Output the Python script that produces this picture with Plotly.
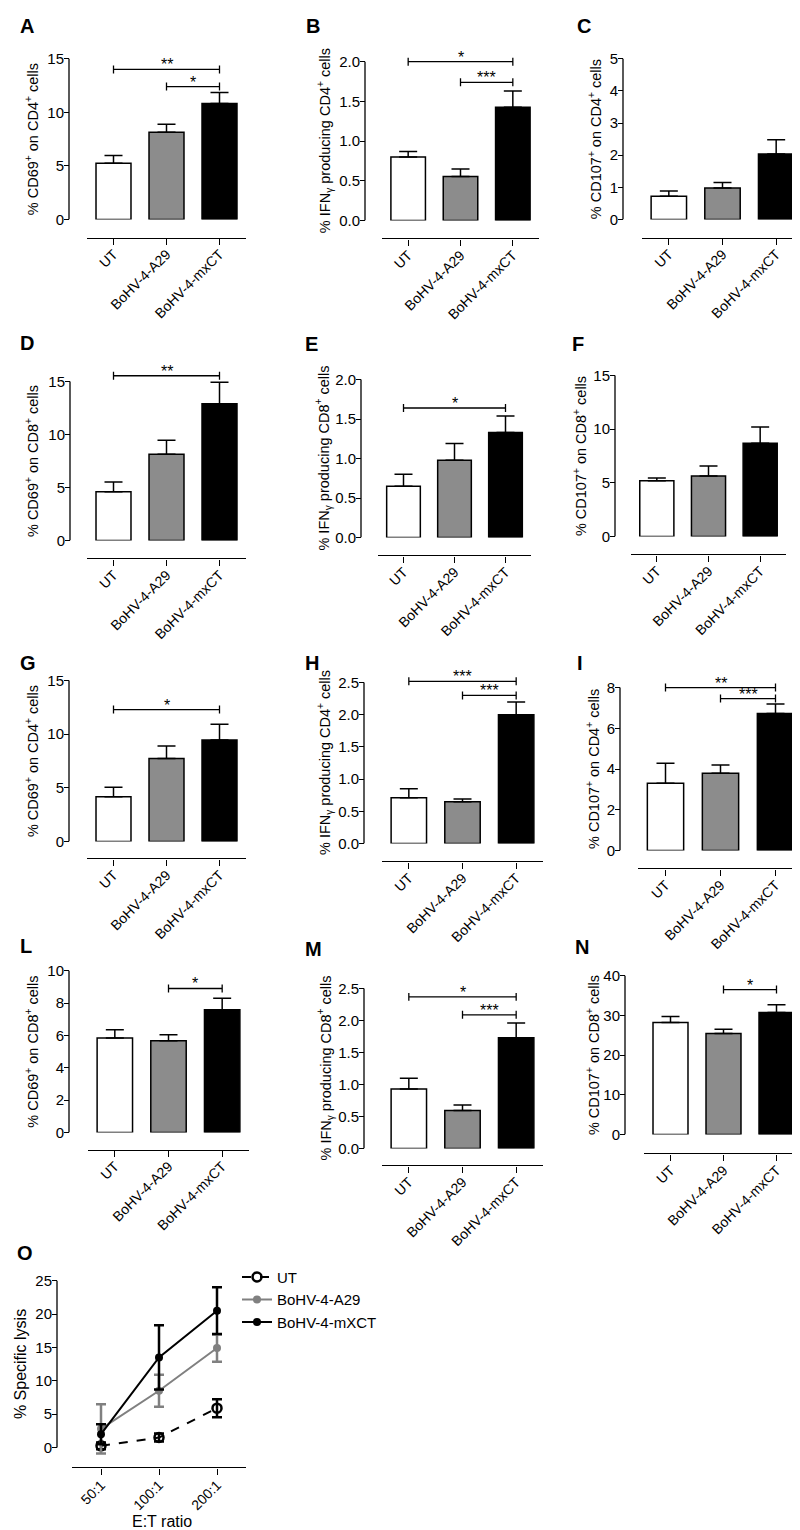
import plotly.graph_objects as go

W, H = 800, 1530
FONT = "Liberation Sans, Arial, sans-serif"

groups = ["UT", "BoHV-4-A29", "BoHV-4-mxCT"]
bar_colors = ["#ffffff", "#8c8c8c", "#000000"]

# ---- bar panel data (mean, SEM) ----
A_mean = [5.26, 8.14, 10.83]; A_sem = [0.71, 0.74, 1.02]
B_mean = [0.80, 0.555, 1.425]; B_sem = [0.07, 0.095, 0.205]
C_mean = [0.73, 0.98, 2.04]; C_sem = [0.16, 0.17, 0.44]
D_mean = [4.60, 8.14, 12.90]; D_sem = [0.91, 1.31, 2.03]
E_mean = [0.65, 0.98, 1.33]; E_sem = [0.15, 0.21, 0.21]
F_mean = [5.19, 5.65, 8.70]; F_sem = [0.27, 0.92, 1.50]
G_mean = [4.17, 7.74, 9.46]; G_sem = [0.90, 1.16, 1.46]
H_mean = [0.71, 0.65, 2.00]; H_sem = [0.14, 0.04, 0.20]
I_mean = [3.30, 3.79, 6.73]; I_sem = [0.98, 0.41, 0.46]
L_mean = [5.85, 5.68, 7.59]; L_sem = [0.51, 0.37, 0.71]
M_mean = [0.93, 0.595, 1.73]; M_sem = [0.17, 0.085, 0.23]
N_mean = [28.2, 25.45, 30.7]; N_sem = [1.55, 1.05, 2.00]

# significance brackets: (group from, group to, height, label)
A_sig = [(0, 2, 14.0, "**"), (1, 2, 12.4, "*")]
B_sig = [(0, 2, 2.0, "*"), (1, 2, 1.74, "***")]
C_sig = []
D_sig = [(0, 2, 15.55, "**")]
E_sig = [(0, 2, 1.64, "*")]
F_sig = []
G_sig = [(0, 2, 12.3, "*")]
H_sig = [(0, 2, 2.52, "***"), (1, 2, 2.30, "***")]
I_sig = [(0, 2, 8.0, "**"), (1, 2, 7.46, "***")]
L_sig = [(1, 2, 8.9, "*")]
M_sig = [(0, 2, 2.37, "*"), (1, 2, 2.09, "***")]
N_sig = [(1, 2, 36.5, "*")]

# y tick values
A_ticks = [0, 5, 10, 15]
B_ticks = [0, 0.5, 1.0, 1.5, 2.0]
C_ticks = [0, 1, 2, 3, 4, 5]
D_ticks = [0, 5, 10, 15]
E_ticks = [0, 0.5, 1.0, 1.5, 2.0]
F_ticks = [0, 5, 10, 15]
G_ticks = [0, 5, 10, 15]
H_ticks = [0, 0.5, 1.0, 1.5, 2.0, 2.5]
I_ticks = [0, 2, 4, 6, 8]
L_ticks = [0, 2, 4, 6, 8, 10]
M_ticks = [0, 0.5, 1.0, 1.5, 2.0, 2.5]
N_ticks = [0, 10, 20, 30, 40]

T_CD69_CD4 = "% CD69<sup>+</sup> on CD4<sup>+</sup> cells"
T_IFN_CD4 = "% IFN<sub>γ</sub> producing CD4<sup>+</sup> cells"
T_107_CD4 = "% CD107<sup>+</sup> on CD4<sup>+</sup> cells"
T_CD69_CD8 = "% CD69<sup>+</sup> on CD8<sup>+</sup> cells"
T_IFN_CD8 = "% IFN<sub>γ</sub> producing CD8<sup>+</sup> cells"
T_107_CD8 = "% CD107<sup>+</sup> on CD8<sup>+</sup> cells"

# ---- panel O data ----
O_ratios = ["50:1", "100:1", "200:1"]
O_UT = [0.25, 1.5, 5.9]; O_UT_err = [0.5, 0.6, 1.35]
O_A29 = [2.8, 8.5, 14.9]; O_A29_err = [3.7, 2.4, 2.05]
O_mx = [2.0, 13.5, 20.5]; O_mx_err = [1.5, 4.8, 3.5]
O_ticks = [0, 5, 10, 15, 20, 25]

# ---- layout geometry (pixels) ----
panels = [
    ("A", A_mean, A_sem, A_sig, A_ticks, T_CD69_CD4, dict(yax=61, xl=79, xr=238, xline=229, y0=211, ytop=49, tx=24, lx=10, ly=7, fmt="")),
    ("B", B_mean, B_sem, B_sig, B_ticks, T_IFN_CD4, dict(yax=357, xl=374, xr=531, xline=230, y0=212, ytop=52, tx=317, lx=296, ly=7, fmt=".1f")),
    ("C", C_mean, C_sem, C_sig, C_ticks, T_107_CD4, dict(yax=615, xl=634, xr=795, xline=229, y0=211, ytop=49, tx=587, lx=567, ly=7, fmt="")),
    ("D", D_mean, D_sem, D_sig, D_ticks, T_CD69_CD8, dict(yax=62, xl=79, xr=238, xline=552, y0=534, ytop=374, tx=24, lx=10, ly=326, fmt="")),
    ("E", E_mean, E_sem, E_sig, E_ticks, T_IFN_CD8, dict(yax=353, xl=370, xr=523, xline=549, y0=531, ytop=372, tx=315, lx=295, ly=327, fmt=".1f")),
    ("F", F_mean, F_sem, F_sig, F_ticks, T_107_CD8, dict(yax=607, xl=623, xr=778, xline=548, y0=530, ytop=368, tx=572, lx=562, ly=327, fmt="")),
    ("G", G_mean, G_sem, G_sig, G_ticks, T_CD69_CD4, dict(yax=61, xl=79, xr=238, xline=854, y0=837, ytop=675, tx=24, lx=10, ly=648, fmt="")),
    ("H", H_mean, H_sem, H_sig, H_ticks, T_IFN_CD4, dict(yax=356, xl=374, xr=535, xline=857, y0=839, ytop=677, tx=317, lx=295, ly=648, fmt=".1f")),
    ("I", I_mean, I_sem, I_sig, I_ticks, T_107_CD4, dict(yax=612, xl=630, xr=795, xline=864, y0=846, ytop=682, tx=585, lx=567, ly=648, fmt="")),
    ("L", L_mean, L_sem, L_sig, L_ticks, T_CD69_CD8, dict(yax=61, xl=80, xr=241, xline=1147, y0=1130, ytop=967, tx=24, lx=10, ly=933, fmt="")),
    ("M", M_mean, M_sem, M_sig, M_ticks, T_IFN_CD8, dict(yax=356, xl=374, xr=535, xline=1163, y0=1146, ytop=985, tx=317, lx=295, ly=936, fmt=".1f")),
    ("N", N_mean, N_sem, N_sig, N_ticks, T_107_CD8, dict(yax=617, xl=636, xr=795, xline=1151, y0=1132, ytop=972, tx=585, lx=565, ly=934, fmt="")),
]
O_geom = dict(yax=49, xl=64, xr=238, xline=1467, y0=1447, ytop=1279, tx=12, lx=7, ly=1242)

EXT = 1.12  # extra headroom above top tick for brackets
TICK_FS = 15
CAT_FS = 14
TITLE_FS = 14.5
STAR_FS = 16


def px(x):
    return x / W


def py(y):
    return 1 - y / H


fig = go.Figure()
layout = {}
shapes = []
annotations = []

for k, (letter, mean, sem, sig, ticks, title, g) in enumerate(panels, start=1):
    xa = "x" if k == 1 else f"x{k}"
    ya = "y" if k == 1 else f"y{k}"
    top = ticks[-1]
    span = g["y0"] - g["ytop"]
    dom_top = g["y0"] - span * EXT
    fig.add_trace(go.Bar(
        x=[0, 1, 2], y=mean, width=0.66,
        marker=dict(color=bar_colors, line=dict(color="black", width=1.5)),
        error_y=dict(type="data", array=sem, arrayminus=[0, 0, 0], symmetric=False,
                     thickness=1.5, width=9, color="black"),
        xaxis=xa, yaxis=ya, showlegend=False, hoverinfo="skip"))
    d = 4.0 * top / span
    for (a, b, h, lab) in sig:
        fig.add_trace(go.Scatter(
            x=[a, a, a, b, b, b], y=[h - d, h + d, h, h, h + d, h - d],
            mode="lines", line=dict(color="black", width=1.3),
            xaxis=xa, yaxis=ya, showlegend=False, hoverinfo="skip"))
        annotations.append(dict(x=(a + b) / 2, y=h, xref=xa, yref=ya, text=lab,
                                showarrow=False, yanchor="bottom", yshift=-6,
                                font=dict(family=FONT, size=STAR_FS, color="black")))
    key = k if k > 1 else ""
    layout[f"xaxis{key}"] = dict(
        domain=[px(g["xl"]), px(g["xr"])], range=[-0.5, 2.5], anchor="free",
        position=py(g["xline"]), showline=True, linecolor="black", linewidth=1.3,
        ticks="outside", ticklen=6, tickwidth=1.3, tickcolor="black",
        tickvals=[0, 1, 2], ticktext=groups, tickangle=-45, ticklabelstandoff=-4,
        tickfont=dict(family=FONT, size=CAT_FS, color="black"),
        showgrid=False, zeroline=False, fixedrange=True)
    layout[f"yaxis{key}"] = dict(
        domain=[py(g["y0"]), py(dom_top)], range=[0, top * EXT], anchor="free",
        position=px(g["yax"]), showline=False, ticks="outside", ticklen=5,
        tickwidth=1.3, tickcolor="black", tickvals=ticks, tickformat=g["fmt"],
        ticklabelstandoff=-3,
        tickfont=dict(family=FONT, size=TICK_FS, color="black"),
        showgrid=False, zeroline=False, fixedrange=True)
    shapes.append(dict(type="line", xref="paper", yref=ya, x0=px(g["yax"]), x1=px(g["yax"]),
                       y0=0, y1=top, line=dict(color="black", width=1.3)))
    annotations.append(dict(x=px(g["tx"]), y=py((g["y0"] + g["ytop"]) / 2), xref="paper", yref="paper",
                            text=title, textangle=-90, showarrow=False, xanchor="center", yanchor="middle",
                            font=dict(family=FONT, size=TITLE_FS, color="black")))
    annotations.append(dict(x=px(g["lx"]), y=py(g["ly"] - 4), xref="paper", yref="paper",
                            text=f"<b>{letter}</b>", showarrow=False, xanchor="left", yanchor="top",
                            font=dict(family=FONT, size=20, color="black")))

# ---- panel O ----
k = 13
g = O_geom
xa, ya = f"x{k}", f"y{k}"
top = O_ticks[-1]
span = g["y0"] - g["ytop"]
ylo = -2.0
yhi = 26.0
dom_bot = g["y0"] + span * (-ylo) / top
dom_top = g["y0"] - span * yhi / top
series = [
    ("UT", O_UT, O_UT_err, "black", "dash",
     dict(symbol="circle-open", size=9, color="black", line=dict(width=2.5, color="black"))),
    ("BoHV-4-A29", O_A29, O_A29_err, "#808080", "solid",
     dict(symbol="circle", size=8, color="#808080")),
    ("BoHV-4-mXCT", O_mx, O_mx_err, "black", "solid",
     dict(symbol="circle", size=8, color="black")),
]
for name, yv, ev, col, dash, mk in series:
    fig.add_trace(go.Scatter(
        x=[0, 1, 2], y=yv, name=name, mode="lines+markers",
        line=dict(color=col, width=2, dash=dash), marker=mk,
        error_y=dict(type="data", array=ev, symmetric=True, thickness=2.5, width=5, color=col),
        xaxis=xa, yaxis=ya, showlegend=True, hoverinfo="skip", cliponaxis=False))
layout[f"xaxis{k}"] = dict(
    domain=[px(g["xl"]), px(g["xr"])], range=[-0.5, 2.5], anchor="free",
    position=py(g["xline"]), showline=True, linecolor="black", linewidth=1.3,
    ticks="outside", ticklen=6, tickwidth=1.3, tickcolor="black",
    tickvals=[0, 1, 2], ticktext=O_ratios, tickangle=-45, ticklabelstandoff=-3,
    tickfont=dict(family=FONT, size=14, color="black"),
    showgrid=False, zeroline=False, fixedrange=True)
layout[f"yaxis{k}"] = dict(
    domain=[py(dom_bot), py(dom_top)], range=[ylo, yhi], anchor="free",
    position=px(g["yax"]), showline=False, ticks="outside", ticklen=5,
    tickwidth=1.3, tickcolor="black", tickvals=O_ticks, ticklabelstandoff=-3,
    tickfont=dict(family=FONT, size=15, color="black"),
    showgrid=False, zeroline=False, fixedrange=True)
shapes.append(dict(type="line", xref="paper", yref=ya, x0=px(g["yax"]), x1=px(g["yax"]),
                   y0=0, y1=top, line=dict(color="black", width=1.3)))
annotations.append(dict(x=px(g["tx"]), y=py((g["y0"] + g["ytop"]) / 2), xref="paper", yref="paper",
                        text="% Specific lysis", textangle=-90, showarrow=False,
                        xanchor="center", yanchor="middle",
                        font=dict(family=FONT, size=16, color="black")))
annotations.append(dict(x=px(154), y=py(1521), xref="paper", yref="paper",
                        text="E:T ratio", showarrow=False, xanchor="center", yanchor="middle",
                        font=dict(family=FONT, size=16, color="black")))
annotations.append(dict(x=px(g["lx"]), y=py(g["ly"] - 4), xref="paper", yref="paper",
                        text="<b>O</b>", showarrow=False, xanchor="left", yanchor="top",
                        font=dict(family=FONT, size=20, color="black")))

fig.update_layout(
    width=W, height=H, margin=dict(l=0, r=0, t=0, b=0),
    paper_bgcolor="white", plot_bgcolor="white",
    font=dict(family=FONT, color="black"),
    shapes=shapes, annotations=annotations,
    legend=dict(x=px(229), y=py(1259), xanchor="left", yanchor="top",
                font=dict(family=FONT, size=15, color="black"),
                bgcolor="rgba(0,0,0,0)", itemwidth=30, tracegroupgap=0),
    **layout,
)

fig.write_html("out.html")
